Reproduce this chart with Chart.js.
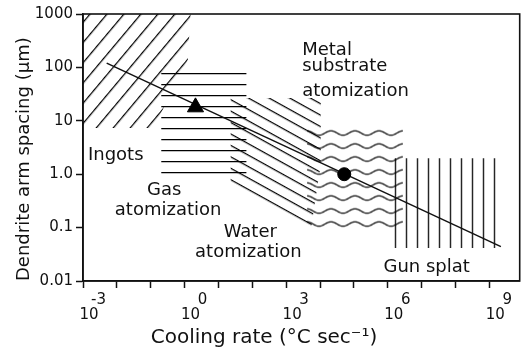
<!DOCTYPE html>
<html>
<head>
<meta charset="utf-8">
<script src="https://cdn.jsdelivr.net/npm/chart.js@4/dist/chart.umd.min.js"></script>
<style>
  body { margin: 0; background: #fff; }
  canvas { display: block; }
</style>
</head>
<body>
<canvas id="das" width="530" height="355"></canvas>
<script>
// cooling rate (deg C / s) against dendrite arm spacing (um), log-log
const xTickExps = [-3, -2, -1, 0, 1, 2, 3, 4, 5, 6, 7, 8, 9];
const xLabelExps = [-3, 0, 3, 6, 9];
const yTickValues = [0.01, 0.1, 1, 10, 100, 1000];
const yTickLabels = ['0.01', '0.1', '1.0', '10', '100', '1000'];

// trend line
const trendRate = [5e-3, 2.2e9];
const trendDas = [120, 0.044];

// marked points
const triRate = [2.1];
const triDas = [18];
const dotRate = [5.2e4];
const dotDas = [1.0];

// process regions (corners of each area)
const ingotRate = [1e-3, 1.5, 1.24, 0.12, 1e-3];
const ingotDas = [1000, 1000, 138, 7.3, 7.3];
const gasRate = [0.205, 67, 67, 0.205];
const gasDas = [89, 89, 0.85, 0.85];
const waterRate = [23, 1.05e4, 1.05e4, 5.4e3, 23];
const waterDas = [26.7, 26.7, 1.5, 0.094, 0.6];
const metalRate = [4.15e3, 2.8e6, 2.8e6, 4.15e3];
const metalDas = [7.65, 7.65, 0.086, 0.086];
const splatRate = [9.7e5, 1.8e9, 1.8e9, 9.7e5];
const splatDas = [2.0, 2.0, 0.0415, 0.0415];

// region names
const regionText = ['Ingots', 'Gas', 'atomization', 'Water', 'atomization', 'Metal', 'substrate', 'atomization', 'Gun splat'];
const regionTextRate = [1.4e-3, 0.25, 0.327, 87, 76.6, 2980, 2980, 2980, 7.5e5];
const regionTextDas = [2.29, 0.506, 0.214, 0.083, 0.035, 212, 106, 36, 0.0183];
const regionTextAlign = ['left', 'center', 'center', 'center', 'center', 'left', 'left', 'left', 'left'];

const ink = '#111';

// straight hatch lines, gap in px, angle in degrees, passing through (x0, y0)
function hatch(gap, angle, x0, y0) {
  const tile = document.createElement('canvas');
  tile.width = 8; tile.height = gap;
  const g = tile.getContext('2d');
  g.fillStyle = '#000';
  g.fillRect(0, 0, 8, 1.25);
  const p = g.createPattern(tile, 'repeat');
  p.setTransform(new DOMMatrix().translate(x0, y0).rotate(angle).translate(0, -0.6));
  return p;
}

// wavy horizontal lines
function wavy(gap, wave, amp, x0, y0) {
  const tile = document.createElement('canvas');
  tile.width = wave; tile.height = gap;
  const g = tile.getContext('2d');
  g.strokeStyle = '#000';
  g.lineWidth = 1.2;
  g.beginPath();
  for (let i = -1; i <= wave + 1; i++) {
    const yy = gap / 2 + amp * Math.sin(2 * Math.PI * i / wave);
    if (i === -1) g.moveTo(i, yy); else g.lineTo(i, yy);
  }
  g.stroke();
  const p = g.createPattern(tile, 'repeat');
  p.setTransform(new DOMMatrix().translate(x0, y0 - gap / 2));
  return p;
}

const pts = (xs, ys) => xs.map((v, i) => ({x: v, y: ys[i]}));

function region(rate, das, pattern) {
  return {
    data: pts(rate, das),
    fill: 'shape',
    backgroundColor: pattern,
    borderColor: 'rgba(0,0,0,0)',
    borderWidth: 0,
    pointRadius: 0
  };
}

const extras = {
  id: 'extras',
  afterDatasetsDraw(chart) {
    const {ctx, chartArea: a, scales: {x, y}} = chart;
    ctx.save();
    ctx.strokeStyle = ink;
    ctx.lineWidth = 1.6;
    ctx.strokeRect(a.left, a.top, a.right - a.left, a.bottom - a.top);
    ctx.fillStyle = ink;
    ctx.font = '18px "DejaVu Sans"';
    ctx.textBaseline = 'middle';
    regionText.forEach((t, i) => {
      ctx.textAlign = regionTextAlign[i];
      ctx.fillText(t, x.getPixelForValue(regionTextRate[i]), y.getPixelForValue(regionTextDas[i]));
    });
    ctx.font = '20px "DejaVu Sans"';
    ctx.textAlign = 'center';
    ctx.fillText('Cooling rate (\u00B0C sec\u207B\u00B9)', 264, 338);
    ctx.restore();
  }
};

const ctx = document.getElementById('das').getContext('2d');

new Chart(ctx, {
  type: 'line',
  data: {
    datasets: [
      {
        data: pts(triRate, triDas),
        showLine: false,
        pointStyle: 'triangle',
        pointRadius: 9.3,
        backgroundColor: '#000',
        borderColor: '#000',
        borderWidth: 1
      },
      {
        data: pts(dotRate, dotDas),
        showLine: false,
        pointStyle: 'circle',
        pointRadius: 6.5,
        backgroundColor: '#000',
        borderColor: '#000',
        borderWidth: 1
      },
      {
        data: pts(trendRate, trendDas),
        borderColor: ink,
        borderWidth: 1.5,
        pointRadius: 0,
        fill: false
      },
      region(ingotRate, ingotDas, hatch(13, -50, 107, 14)),
      region(gasRate, gasDas, hatch(11, 0, 0, 73.6)),
      region(waterRate, waterDas, hatch(10, 29, 235, 102)),
      region(metalRate, metalDas, wavy(13, 24, 2.2, 313, 133)),
      region(splatRate, splatDas, hatch(11, 90, 395.6, 0))
    ]
  },
  options: {
    responsive: false,
    animation: false,
    layout: { padding: { top: 14, right: 2, left: 0, bottom: 0 } },
    plugins: {
      legend: { display: false },
      tooltip: { enabled: false }
    },
    scales: {
      x: {
        type: 'logarithmic',
        min: 1e-3,
        max: 7.9e9,
        afterBuildTicks: s => { s.ticks = xTickExps.map(e => ({value: Math.pow(10, e)})); },
        afterFit: s => { s.height = 74; },
        grid: { drawOnChartArea: false, tickLength: 7, tickWidth: 1.5, tickColor: ink },
        border: { color: ink, width: 1.6 },
        ticks: {
          autoSkip: false,
          maxRotation: 0,
          padding: 5,
          labelOffset: 6,
          color: ink,
          font: { family: 'DejaVu Sans', size: 15, lineHeight: 1 },
          callback: v => {
            const e = Math.round(Math.log10(v));
            if (!xLabelExps.includes(e)) return '';
            return [(e < 0 ? '    ' : '     ') + e, '10'];
          }
        }
      },
      y: {
        type: 'logarithmic',
        min: 0.01,
        max: 1000,
        afterBuildTicks: s => { s.ticks = yTickValues.map(v => ({value: v})); },
        afterFit: s => { s.width = 83; },
        grid: { drawOnChartArea: false, tickLength: 7, tickWidth: 1.5, tickColor: ink },
        border: { color: ink, width: 1.6 },
        ticks: {
          autoSkip: false,
          padding: 3,
          color: ink,
          font: { family: 'DejaVu Sans', size: 15 },
          callback: (v, i) => yTickLabels[i]
        },
        title: {
          display: true,
          text: 'Dendrite arm spacing (\u03BCm)',
          align: 'start',
          color: ink,
          font: { family: 'DejaVu Sans', size: 18 },
          padding: { top: 14, bottom: 0 }
        }
      }
    }
  },
  plugins: [extras]
});
</script>
</body>
</html>
